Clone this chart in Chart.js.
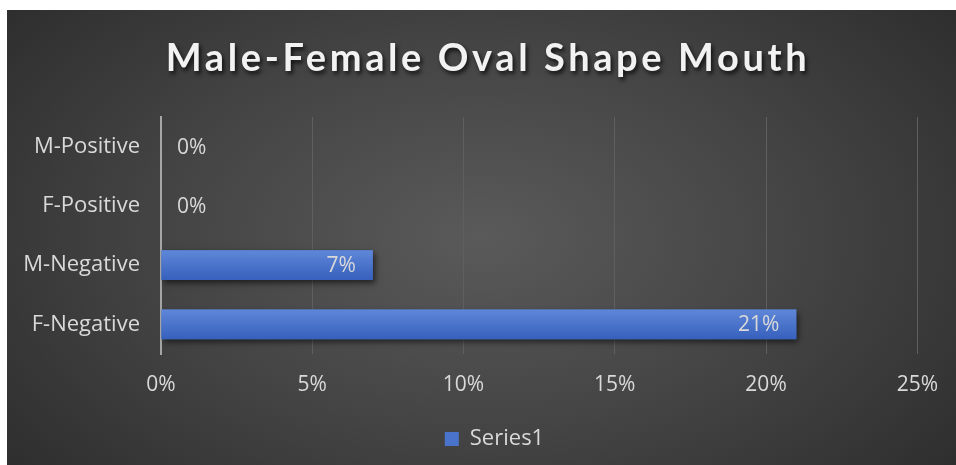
<!DOCTYPE html>
<html>
<head>
<meta charset="utf-8">
<script src="https://cdn.jsdelivr.net/npm/chart.js@4.4.0/dist/chart.umd.min.js"></script>
<style>
html,body{margin:0;padding:0;background:#fff;}
#panel{position:absolute;left:7px;top:10px;width:949px;height:455px;
background:radial-gradient(ellipse 75% 95% at 50% 50%, #5a5a5a 0%, #444 45%, #262626 100%);}
canvas{display:block;}
</style>
</head>
<body>
<div id="panel"><canvas id="c" width="949" height="455"></canvas></div>
<script>
const titleText = 'Male-Female Oval Shape Mouth';
const categories = ['M-Positive', 'F-Positive', 'M-Negative', 'F-Negative'];
const seriesName = 'Series1';
const values = [0, 0, 0.07, 0.21];
const xTicks = [0, 0.05, 0.10, 0.15, 0.20, 0.25];

const FONT = '"Open Sans", Lato, sans-serif';
const TFONT = 'Lato, "Open Sans", sans-serif';
const TXT = '#d9d9d9';

const titlePlugin = {
  id: 'customTitle',
  afterDraw(chart) {
    const ctx = chart.ctx;
    ctx.save();
    ctx.font = 'bold 38px ' + TFONT;
    ctx.letterSpacing = '3.6px';
    ctx.textAlign = 'center';
    ctx.textBaseline = 'alphabetic';
    ctx.shadowColor = 'rgba(0,0,0,0.75)';
    ctx.shadowOffsetX = 2;
    ctx.shadowOffsetY = 3;
    ctx.shadowBlur = 4;
    ctx.fillStyle = '#f2f2f2';
    ctx.fillText(titleText, 481, 61);
    ctx.restore();
  }
};

const legendShift = {
  id: 'legendShift',
  afterLayout(chart) {
    if (chart.legend) {
      chart.legend.left += 32;
      chart.legend.right += 32;
    }
  }
};

const barShadow = {
  id: 'barShadow',
  beforeDatasetDraw(chart) {
    const ctx = chart.ctx;
    ctx.save();
    ctx.shadowColor = 'rgba(0,0,0,0.6)';
    ctx.shadowBlur = 6;
    ctx.shadowOffsetX = 2;
    ctx.shadowOffsetY = 3;
  },
  afterDatasetDraw(chart) {
    chart.ctx.restore();
    const ctx = chart.ctx;
    const meta = chart.getDatasetMeta(0);
    ctx.save();
    meta.data.forEach((bar) => {
      const p = bar.getProps(['x', 'y', 'base', 'height']);
      const w = p.x - p.base;
      if (!(w > 0) || !isFinite(p.y)) return;
      const top = p.y - p.height / 2;
      const g = ctx.createLinearGradient(0, top, 0, top + p.height);
      g.addColorStop(0, '#5f87d8');
      g.addColorStop(1, '#3660bd');
      ctx.fillStyle = g;
      ctx.fillRect(p.base, top, w, p.height);
    });
    ctx.restore();
  }
};

const labelPlugin = {
  id: 'valueLabels',
  afterDatasetsDraw(chart) {
    const ctx = chart.ctx;
    const meta = chart.getDatasetMeta(0);
    ctx.save();
    ctx.font = '21px ' + FONT;
    ctx.fillStyle = TXT;
    ctx.textBaseline = 'middle';
    meta.data.forEach((bar, i) => {
      const v = values[i];
      const txt = Math.round(v * 100) + '%';
      if (v === 0) {
        ctx.textAlign = 'left';
        ctx.fillText(txt, bar.base + 16, bar.y + 1);
      } else {
        ctx.textAlign = 'right';
        ctx.fillText(txt, bar.x - 17, bar.y + 1);
      }
    });
    ctx.restore();
  }
};

const ctx = document.getElementById('c').getContext('2d');

new Chart(ctx, {
  type: 'bar',
  data: {
    labels: categories,
    datasets: [{
      label: seriesName,
      data: values,
      backgroundColor: '#4a74cc',
      borderWidth: 0,
      barPercentage: 0.5,
      categoryPercentage: 1.0
    }]
  },
  options: {
    indexAxis: 'y',
    responsive: false,
    animation: false,
    devicePixelRatio: 1,
    layout: { padding: { top: 107, left: 0, right: 38, bottom: 5 } },
    plugins: {
      title: { display: false },
      tooltip: { enabled: false },
      legend: {
        display: true,
        position: 'bottom',
        labels: {
          color: TXT,
          font: { family: FONT, size: 22 },
          boxWidth: 14,
          boxHeight: 14,
          padding: 12,
          generateLabels: () => [{ text: seriesName, fillStyle: '#4a74cc', strokeStyle: '#4a74cc', lineWidth: 0, fontColor: TXT }]
        }
      }
    },
    scales: {
      x: {
        min: 0, max: 0.25,
        afterBuildTicks: (s) => { s.ticks = xTicks.map(v => ({ value: v })); },
        grid: { color: '#5f5f5f', lineWidth: 1, drawTicks: false },
        border: { display: false },
        ticks: {
          color: TXT,
          font: { family: FONT, size: 21 },
          padding: 18,
          callback: (v) => Math.round(v * 100) + '%'
        },
        afterFit: (s) => { s.height = 62; }
      },
      y: {
        grid: { display: false, drawTicks: false },
        border: { display: true, color: '#a6a6a6', width: 2 },
        ticks: {
          color: TXT,
          font: { family: FONT, size: 22 },
          padding: 21
        },
        afterFit: (s) => { s.width = 154; }
      }
    }
  },
  plugins: [legendShift, barShadow, labelPlugin, titlePlugin]
});
</script>
</body>
</html>
